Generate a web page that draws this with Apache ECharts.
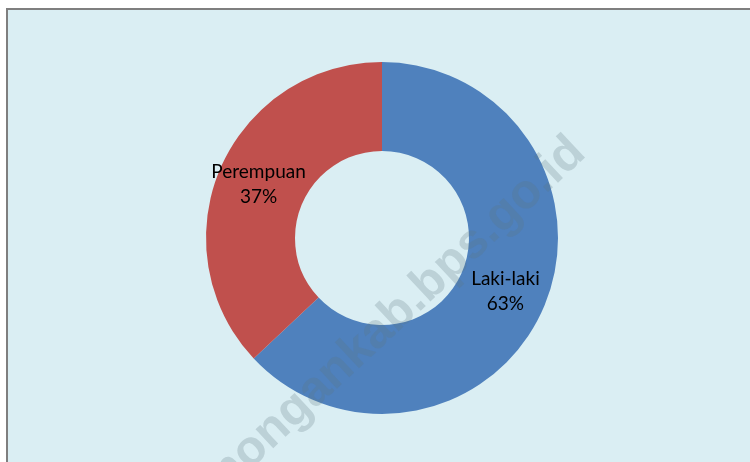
<!DOCTYPE html>
<html>
<head>
<meta charset="utf-8">
<style>
  html, body { margin: 0; padding: 0; background: #ffffff; }
  #chart { width: 750px; height: 462px; }
</style>
<script src="https://cdn.jsdelivr.net/npm/echarts@6/dist/echarts.min.js"></script>
</head>
<body>
<div id="chart"></div>
<script>
var categories = ['Laki-laki', 'Perempuan']
var shares = [63, 37]
var sliceColors = ['#4F81BD', '#C0504D']

var chart = echarts.init(document.getElementById('chart'))

var pieData = categories.map(function (name, i) {
  return { name: name, value: shares[i], itemStyle: { color: sliceColors[i] } }
})

chart.setOption({
  animation: false,
  graphic: [
    {
      // panel background with grey frame on the top and left
      type: 'rect',
      z: -10,
      shape: { x: 7, y: 9, width: 760, height: 470 },
      style: { fill: '#DAEEF3', stroke: '#7F7F7F', lineWidth: 2 }
    },
    {
      // watermark
      type: 'text',
      z: 100,
      x: 393,
      y: 318,
      rotation: 43 * Math.PI / 180,
      style: {
        text: 'mongankab.bps.go.id',
        font: 'bold 49px "Liberation Sans", Arial, sans-serif',
        fill: 'rgba(90, 115, 125, 0.24)',
        align: 'center',
        verticalAlign: 'middle'
      }
    }
  ],
  series: [
    {
      type: 'pie',
      radius: [87, 176],
      center: [382, 238],
      startAngle: 90,
      clockwise: true,
      silent: true,
      label: {
        show: true,
        position: 'inside',
        color: '#000000',
        fontFamily: 'Lato',
        fontSize: 19,
        lineHeight: 25,
        formatter: function (p) {
          return p.name + '\n' + p.value + '%'
        }
      },
      labelLine: { show: false },
      data: pieData
    }
  ]
})
</script>
</body>
</html>
